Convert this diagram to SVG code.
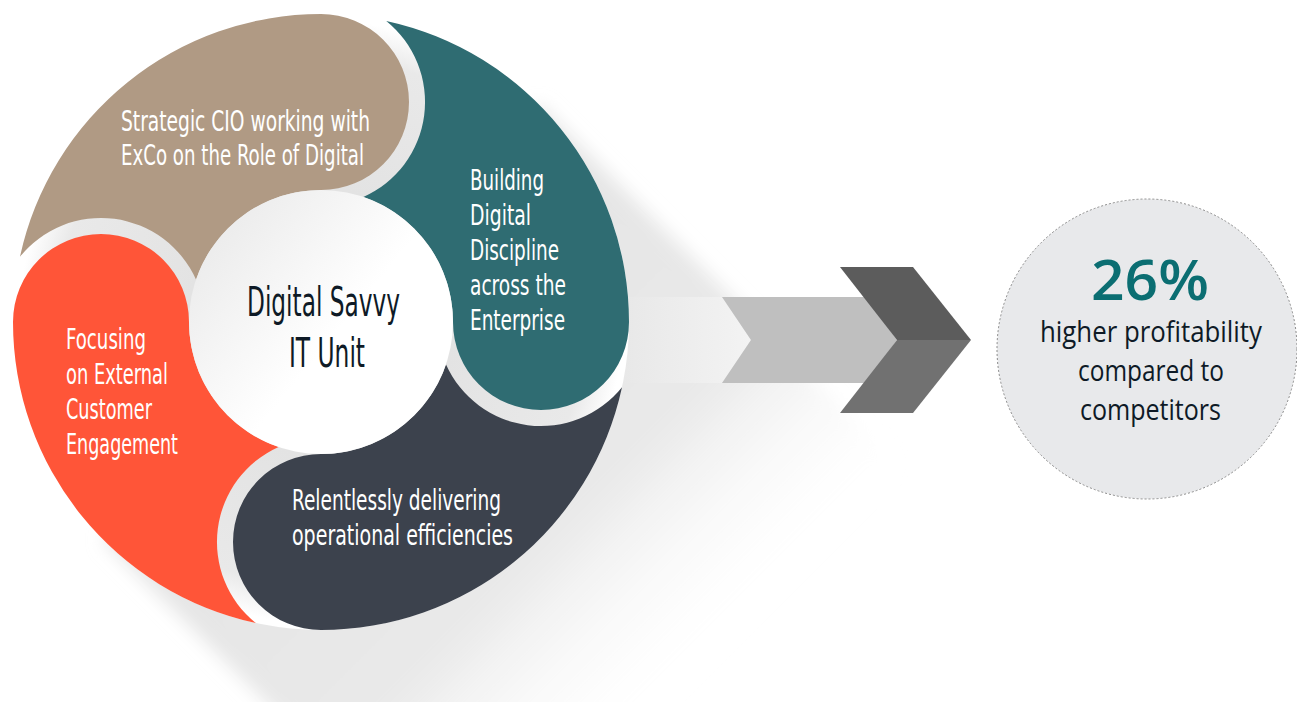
<svg xmlns="http://www.w3.org/2000/svg" width="1297" height="702" viewBox="0 0 1297 702">
<style>
.lbl{font-family:"Liberation Sans Narrow","DejaVu Sans Condensed","Liberation Sans",sans-serif;font-size:28px;fill:#ffffff}
.ctr{font-family:"Liberation Sans Narrow","DejaVu Sans Condensed","Liberation Sans",sans-serif;font-size:40px;fill:#0e1a26}
.res{font-family:"Open Sans","Liberation Sans",sans-serif;font-size:30px;fill:#0e1a26}
.pct{font-family:"Open Sans","Liberation Sans",sans-serif;font-size:56px;font-weight:600;fill:#0b6e72}
</style>
<defs>
<linearGradient id="shadowGrad" gradientUnits="userSpaceOnUse" x1="321" y1="322" x2="690" y2="691">
<stop offset="0" stop-color="#e4e4e4"/>
<stop offset="0.6" stop-color="#e9e9e9"/>
<stop offset="1" stop-color="#ffffff" stop-opacity="0"/>
</linearGradient>
<filter id="soft" x="-20%" y="-20%" width="140%" height="140%">
<feGaussianBlur stdDeviation="9"/>
</filter>
<radialGradient id="baseGrad" gradientUnits="userSpaceOnUse" cx="321" cy="322" r="308">
<stop offset="0.43" stop-color="#e3e3e3"/>
<stop offset="0.86" stop-color="#e9e9e9"/>
<stop offset="0.98" stop-color="#ffffff"/>
</radialGradient>
<linearGradient id="innerGrad" x1="0" y1="0.1" x2="0.55" y2="0.55">
<stop offset="0" stop-color="#e8e8e8"/>
<stop offset="1" stop-color="#ffffff"/>
</linearGradient>
<linearGradient id="bandGrad" x1="0" y1="0" x2="1" y2="0">
<stop offset="0" stop-color="#e6e6e6"/>
<stop offset="1" stop-color="#f3f3f3"/>
</linearGradient>
<path id="seg" d="M 19.98 256.75 A 308 308 0 0 1 321 14 A 88 88 0 0 1 409 102 A 88 88 0 0 1 321 190 A 132 132 0 0 0 195.98 279.62 A 104 104 0 0 0 19.98 256.75 Z"/>
</defs>

<g id="long-shadow">
<polygon points="538.8,104.2 898.8,464.2 463.2,899.8 103.2,539.8" fill="url(#shadowGrad)" filter="url(#soft)"/>
</g>

<g id="connectors">
<polygon points="600,297 722,297 751,340 722,383 600,383" fill="url(#bandGrad)"/>
<polygon points="722,297 866,297 897,340 866,383 722,383 751,340" fill="#bfbfbf"/>
<polygon points="840,267 913,267 971,340 897,340" fill="#5c5c5c"/>
<polygon points="897,340 971,340 913,413 840,413" fill="#717171"/>
</g>

<g id="ring-base">
<circle cx="321" cy="322" r="308" fill="url(#baseGrad)"/>
</g>

<g id="node-strategic">
<use href="#seg" fill="#b09a84"/>
<text class="lbl" x="121" y="131" textLength="249" lengthAdjust="spacingAndGlyphs">Strategic CIO working with</text>
<text class="lbl" x="121" y="165" textLength="243" lengthAdjust="spacingAndGlyphs">ExCo on the Role of Digital</text>
</g>

<g id="node-discipline">
<use href="#seg" fill="#2f6c72" transform="rotate(90 321 322)"/>
<text class="lbl" x="470" y="190" textLength="74" lengthAdjust="spacingAndGlyphs">Building</text>
<text class="lbl" x="470" y="225" textLength="61" lengthAdjust="spacingAndGlyphs">Digital</text>
<text class="lbl" x="470" y="260" textLength="89" lengthAdjust="spacingAndGlyphs">Discipline</text>
<text class="lbl" x="470" y="295" textLength="96" lengthAdjust="spacingAndGlyphs">across the</text>
<text class="lbl" x="470" y="330" textLength="95" lengthAdjust="spacingAndGlyphs">Enterprise</text>
</g>

<g id="node-efficiencies">
<use href="#seg" fill="#3c424d" transform="rotate(180 321 322)"/>
<text class="lbl" x="292" y="510" textLength="209" lengthAdjust="spacingAndGlyphs">Relentlessly delivering</text>
<text class="lbl" x="292" y="545" textLength="221" lengthAdjust="spacingAndGlyphs">operational efficiencies</text>
</g>

<g id="node-customer">
<use href="#seg" fill="#ff5538" transform="rotate(270 321 322)"/>
<text class="lbl" x="66" y="349" textLength="80" lengthAdjust="spacingAndGlyphs">Focusing</text>
<text class="lbl" x="66" y="384" textLength="102" lengthAdjust="spacingAndGlyphs">on External</text>
<text class="lbl" x="66" y="419" textLength="86" lengthAdjust="spacingAndGlyphs">Customer</text>
<text class="lbl" x="66" y="454" textLength="112" lengthAdjust="spacingAndGlyphs">Engagement</text>
</g>

<g id="node-center">
<circle cx="321" cy="322" r="132" fill="url(#innerGrad)"/>
<text class="ctr" x="247" y="316" textLength="153" lengthAdjust="spacingAndGlyphs">Digital Savvy</text>
<text class="ctr" x="289" y="367" textLength="76" lengthAdjust="spacingAndGlyphs">IT Unit</text>
</g>

<g id="node-result">
<circle cx="1147" cy="349" r="150" fill="#e8e9eb" stroke="#8a8a8a" stroke-width="1" stroke-dasharray="2 2"/>
<text class="pct" x="1091" y="300" textLength="118" lengthAdjust="spacingAndGlyphs">26%</text>
<text class="res" x="1040" y="342" textLength="222" lengthAdjust="spacingAndGlyphs">higher profitability</text>
<text class="res" x="1078" y="381" textLength="146" lengthAdjust="spacingAndGlyphs">compared to</text>
<text class="res" x="1080" y="420" textLength="141" lengthAdjust="spacingAndGlyphs">competitors</text>
</g>
</svg>
